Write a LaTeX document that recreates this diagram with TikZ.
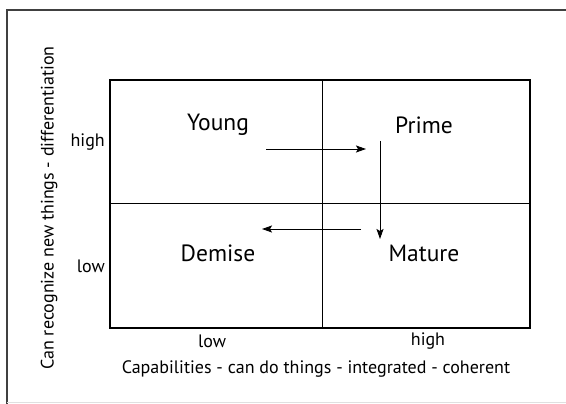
\documentclass[tikz,border=0pt]{standalone}
\usepackage{fontspec}
\setmainfont{PT Sans}
\usetikzlibrary{arrows.meta}

\begin{document}
\begin{tikzpicture}[x=1pt, y=-1pt]
\useasboundingbox (0,0) rectangle (566,404);
\tikzset{stage/.style ={font=\fontsize{23.5}{28}\selectfont}}
\tikzset{level/.style ={font=\fontsize{18}{22}\selectfont, inner sep=0pt}}
\tikzset{move/.style ={-{Stealth[length=10pt, width=7pt, inset=2pt]}, line width=0.9pt}}
% frame
\draw[line width=2pt, black!75] (7,404) -- (7,10) -- (566,10);
\draw[line width=1pt, black!12] (7,402.5) -- (566,402.5);
% quadrants
\draw[line width=2.5pt] (110,80) rectangle (530,328);
\draw[line width=0.8pt] (322,80) -- (322,328);
\draw[line width=0.8pt] (110,203) -- (530,203);
\node[stage] (young) at (218,125) {Young};
\node[stage] (prime) at (424,125) {Prime};
\node[stage] (demise) at (218,253) {Demise};
\node[stage] (mature) at (424,253) {Mature};
% axes
\node[level, anchor=east] (yhigh) at (105,142) {high};
\node[level, anchor=east] (ylow) at (105,266) {low};
\node[level] (xlow) at (212,341) {low};
\node[level] (xhigh) at (428,341) {high};
\node[level] (xaxis) at (316,369) {Capabilities - can do things - integrated - coherent};
\node[level, rotate=90] (yaxis) at (49,208) {Can recognize new things - differentiation};
% life cycle
\coordinate (A) at (266,149);
\coordinate (B) at (366,149);
\coordinate (C) at (380,141);
\coordinate (D) at (380,239);
\coordinate (E) at (361,229);
\coordinate (F) at (262,229);
\draw[move] (A) -- (B);
\draw[move] (C) -- (D);
\draw[move] (E) -- (F);
\end{tikzpicture}
\end{document}
